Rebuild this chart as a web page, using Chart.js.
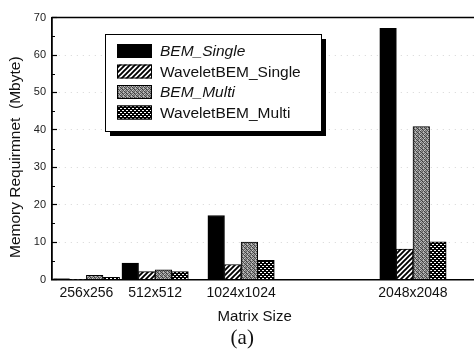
<!DOCTYPE html>
<html>
<head>
<meta charset="utf-8">
<script src="https://cdn.jsdelivr.net/npm/chart.js@4.4.1/dist/chart.umd.min.js"></script>
<style>
  html, body { margin: 0; padding: 0; background: #fff; overflow: hidden; }
  canvas { display: block; }
</style>
</head>
<body>
<canvas id="memChart" width="474" height="358"></canvas>
<script>
// values (Mbyte)
const matrixSizes = ['256x256', '512x512', '1024x1024', '2048x2048'];
const sizeSlots = [2, 6, 11, 21];   // slot of each group along the x axis
const bemSingle = [0.2, 4.4, 17.1, 67.1];
const waveletSingle = [0.1, 2.1, 4.0, 8.1];
const bemMulti = [1.1, 2.6, 10.0, 40.9];
const waveletMulti = [0.6, 2.1, 5.1, 10.1];

const pts = arr => arr.map((v, i) => ({ x: sizeSlots[i], y: v }));

// fill patterns
function makePattern(size, paint) {
  const c = document.createElement('canvas');
  c.width = c.height = size;
  const g = c.getContext('2d');
  paint(g, size);
  return g.createPattern(c, 'repeat');
}

const hatch = makePattern(5, (g, s) => {
  g.fillStyle = '#fff';
  g.fillRect(0, 0, s, s);
  g.strokeStyle = '#000';
  g.lineWidth = 1.9;
  g.beginPath();
  g.moveTo(-1, s + 1); g.lineTo(s + 1, -1);
  g.moveTo(-1, 1); g.lineTo(1, -1);
  g.moveTo(s - 1, s + 1); g.lineTo(s + 1, s - 1);
  g.stroke();
});

const stipple = makePattern(4, (g) => {
  const shades = [
    [0x98, 0x40, 0x88, 0xc0],
    [0x68, 0xb8, 0x38, 0x80],
    [0xc8, 0x70, 0xa0, 0x50],
    [0x40, 0x90, 0x60, 0xb0]
  ];
  shades.forEach((row, y) => row.forEach((v, x) => {
    g.fillStyle = `rgb(${v},${v},${v})`;
    g.fillRect(x, y, 1, 1);
  }));
});

const dots = makePattern(4, (g, s) => {
  g.fillStyle = '#000';
  g.fillRect(0, 0, s, s);
  g.fillStyle = '#fff';
  g.fillRect(0, 0, 2, 1);
  g.fillRect(2, 2, 2, 1);
});

const sans = '"Liberation Sans", Arial, sans-serif';

// framed legend with drop shadow, top frame line, minor ticks, y title
const boxLegend = {
  id: 'boxLegend',
  afterDraw(chart) {
    const ctx = chart.ctx;
    const area = chart.chartArea;
    const yScale = chart.scales.y;

    ctx.save();
    // top frame
    ctx.strokeStyle = '#000';
    ctx.lineWidth = 1.5;
    ctx.beginPath();
    ctx.moveTo(area.left, area.top);
    ctx.lineTo(area.right, area.top);
    ctx.stroke();

    // minor ticks
    ctx.lineWidth = 1;
    for (let v = 5; v < 70; v += 10) {
      const py = Math.round(yScale.getPixelForValue(v)) + 0.5;
      ctx.beginPath();
      ctx.moveTo(area.left, py);
      ctx.lineTo(area.left + 3, py);
      ctx.stroke();
    }

    // y axis title, starting just above the 0 tick
    ctx.save();
    ctx.translate(16, 258);
    ctx.rotate(-Math.PI / 2);
    ctx.fillStyle = '#111';
    ctx.font = '15.5px ' + sans;
    ctx.textAlign = 'left';
    ctx.textBaseline = 'middle';
    ctx.fillText('Memory Requirmnet  (Mbyte)', 0, 0);
    ctx.restore();

    // legend box
    const bx = 105, by = 34, bw = 216, bh = 97;
    ctx.fillStyle = '#000';
    ctx.fillRect(bx + 5, by + 5, bw, bh);
    ctx.fillStyle = '#fff';
    ctx.fillRect(bx, by, bw, bh);
    ctx.strokeStyle = '#000';
    ctx.lineWidth = 1;
    ctx.strokeRect(bx + 0.5, by + 0.5, bw, bh);

    chart.data.datasets.forEach((ds, i) => {
      const cy = 51 + i * 20.5;
      ctx.fillStyle = ds.backgroundColor;
      ctx.fillRect(117, cy - 7, 35, 14);
      ctx.strokeStyle = '#000';
      ctx.strokeRect(117.5, cy - 6.5, 34, 13);
      ctx.fillStyle = '#111';
      ctx.font = (ds.italicLabel ? 'italic ' : '') + '15.5px ' + sans;
      ctx.textBaseline = 'middle';
      ctx.textAlign = 'left';
      ctx.fillText(ds.label, 160, cy + 1);
    });
    ctx.restore();
  }
};

new Chart(document.getElementById('memChart'), {
  type: 'bar',
  data: {
    datasets: [
      { label: 'BEM_Single', data: pts(bemSingle), backgroundColor: '#000', italicLabel: true },
      { label: 'WaveletBEM_Single', data: pts(waveletSingle), backgroundColor: hatch },
      { label: 'BEM_Multi', data: pts(bemMulti), backgroundColor: stipple, italicLabel: true },
      { label: 'WaveletBEM_Multi', data: pts(waveletMulti), backgroundColor: dots }
    ]
  },
  options: {
    responsive: false,
    animation: false,
    layout: { padding: { top: 11, right: 0, bottom: 0, left: 0 } },
    datasets: {
      bar: { barThickness: 16.6, borderColor: '#000', borderWidth: 1 }
    },
    scales: {
      x: {
        type: 'linear',
        offset: false,
        min: 0,
        max: 24.55,
        afterFit: s => { s.height = 46.3; },
        afterBuildTicks: s => { s.ticks = sizeSlots.map(v => ({ value: v })); },
        ticks: {
          autoSkip: false,
          maxRotation: 0,
          padding: 5,
          color: '#111',
          font: { family: sans, size: 14 },
          callback: v => matrixSizes[sizeSlots.indexOf(v)]
        },
        grid: { display: false, drawTicks: false, offset: false },
        border: { display: true, color: '#000', width: 1.5 },
        title: {
          display: true,
          text: 'Matrix Size    ',
          color: '#111',
          font: { family: sans, size: 15 },
          padding: 0
        }
      },
      y: {
        min: 0,
        max: 70,
        afterFit: s => { s.width = 52; },
        ticks: {
          stepSize: 10,
          padding: 11,
          color: '#222',
          font: { family: sans, size: 11 }
        },
        grid: {
          tickLength: -5,
          tickColor: '#000',
          tickWidth: 1.2,
          color: c => (c.tick && c.tick.value % 70 === 0) ? 'rgba(0,0,0,0)' : '#d6d6d6',
          lineWidth: 1
        },
        border: { display: true, color: '#000', width: 1.8, dash: [1, 5] }
      }
    },
    plugins: {
      legend: { display: false },
      tooltip: { enabled: false },
      subtitle: {
        display: true,
        text: '  (a)',
        position: 'bottom',
        color: '#111',
        font: { family: '"Liberation Serif", "Times New Roman", serif', size: 21, weight: 'normal' },
        padding: { top: 0, bottom: 7 }
      }
    }
  },
  plugins: [boxLegend]
});
</script>
</body>
</html>
